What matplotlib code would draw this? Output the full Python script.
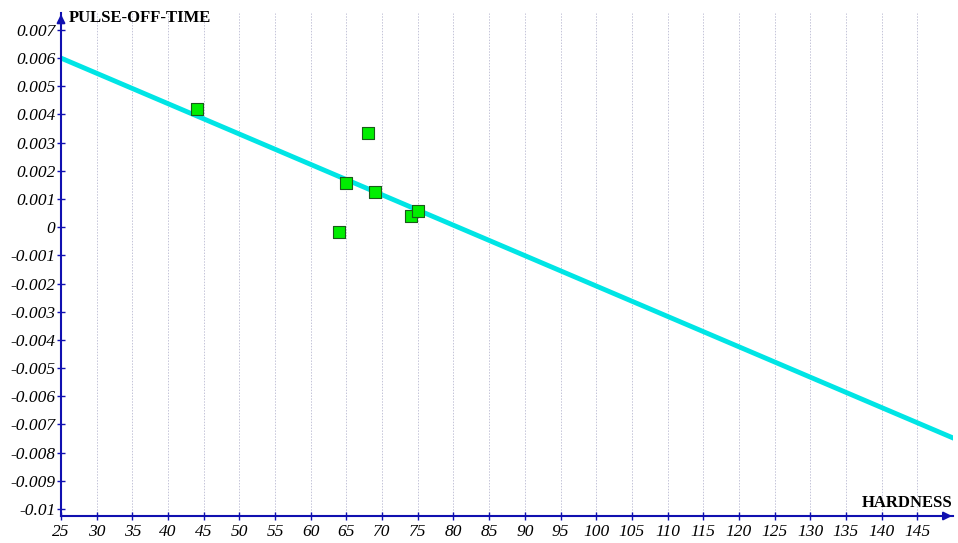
import matplotlib.pyplot as plt
import numpy as np

# measured points (hardness vs pulse-off-time)
hardness = [44, 64, 65, 68, 69, 74, 75]
pulse_off = [0.0042, -0.00017, 0.00157, 0.00333, 0.00125, 0.0004, 0.00058]

# fitted line end points
fit_x = [25, 150]
fit_y = [0.006, -0.00748]

xticks = list(range(25, 150, 5))
yticks = [round(v, 3) for v in np.arange(-0.01, 0.0071, 0.001)]

axis_col = '#1010b0'

fig = plt.figure(figsize=(9.58, 5.43), dpi=100)
ax = fig.add_axes([61/958, 27/543, (953-61)/958, (530-27)/543])

ax.set_xlim(25, 150)
ax.set_ylim(-0.01025, 0.0076)

for x in xticks[1:]:
    ax.axvline(x, color='#c4c4d8', lw=0.7, ls=(0, (1.5, 1.5)), zorder=0)

ax.plot(fit_x, fit_y, color='#00e5e5', lw=3.5, zorder=2)
ax.scatter(hardness, pulse_off, marker='s', s=75, color='#00ee00',
           edgecolors='#1a5a1a', linewidths=0.8, zorder=3)

for s in ['top', 'right']:
    ax.spines[s].set_visible(False)
for s in ['left', 'bottom']:
    ax.spines[s].set_color(axis_col)
    ax.spines[s].set_linewidth(1.5)

ax.set_xticks(xticks)
ax.set_xticklabels([str(x) for x in xticks])
ax.set_yticks(yticks)
ax.set_yticklabels(['0' if v == 0 else ('%g' % v) for v in yticks])
ax.tick_params(direction='inout', length=6, width=1, color=axis_col,
               labelsize=12.5, pad=1)
ax.tick_params(axis='x', pad=3)
for lab in ax.get_xticklabels() + ax.get_yticklabels():
    lab.set_family('Liberation Serif')
    lab.set_style('italic')

# arrows at axis ends
ax.annotate('', xy=(1.002, 0), xytext=(0.99, 0), xycoords='axes fraction',
            arrowprops=dict(arrowstyle='-|>', color=axis_col, lw=1.5,
                            mutation_scale=12), annotation_clip=False)
ax.annotate('', xy=(0, 1.003), xytext=(0, 0.985), xycoords='axes fraction',
            arrowprops=dict(arrowstyle='-|>', color=axis_col, lw=1.5,
                            mutation_scale=12), annotation_clip=False)

ax.text(0.009, 0.99, 'PULSE-OFF-TIME', transform=ax.transAxes,
        family='Liberation Serif', weight='bold', fontsize=12,
        ha='left', va='center')
ax.text(1.0, 0.025, 'HARDNESS', transform=ax.transAxes,
        family='Liberation Serif', weight='bold', fontsize=12,
        ha='right', va='center')

fig.savefig('out.png', dpi=100)
